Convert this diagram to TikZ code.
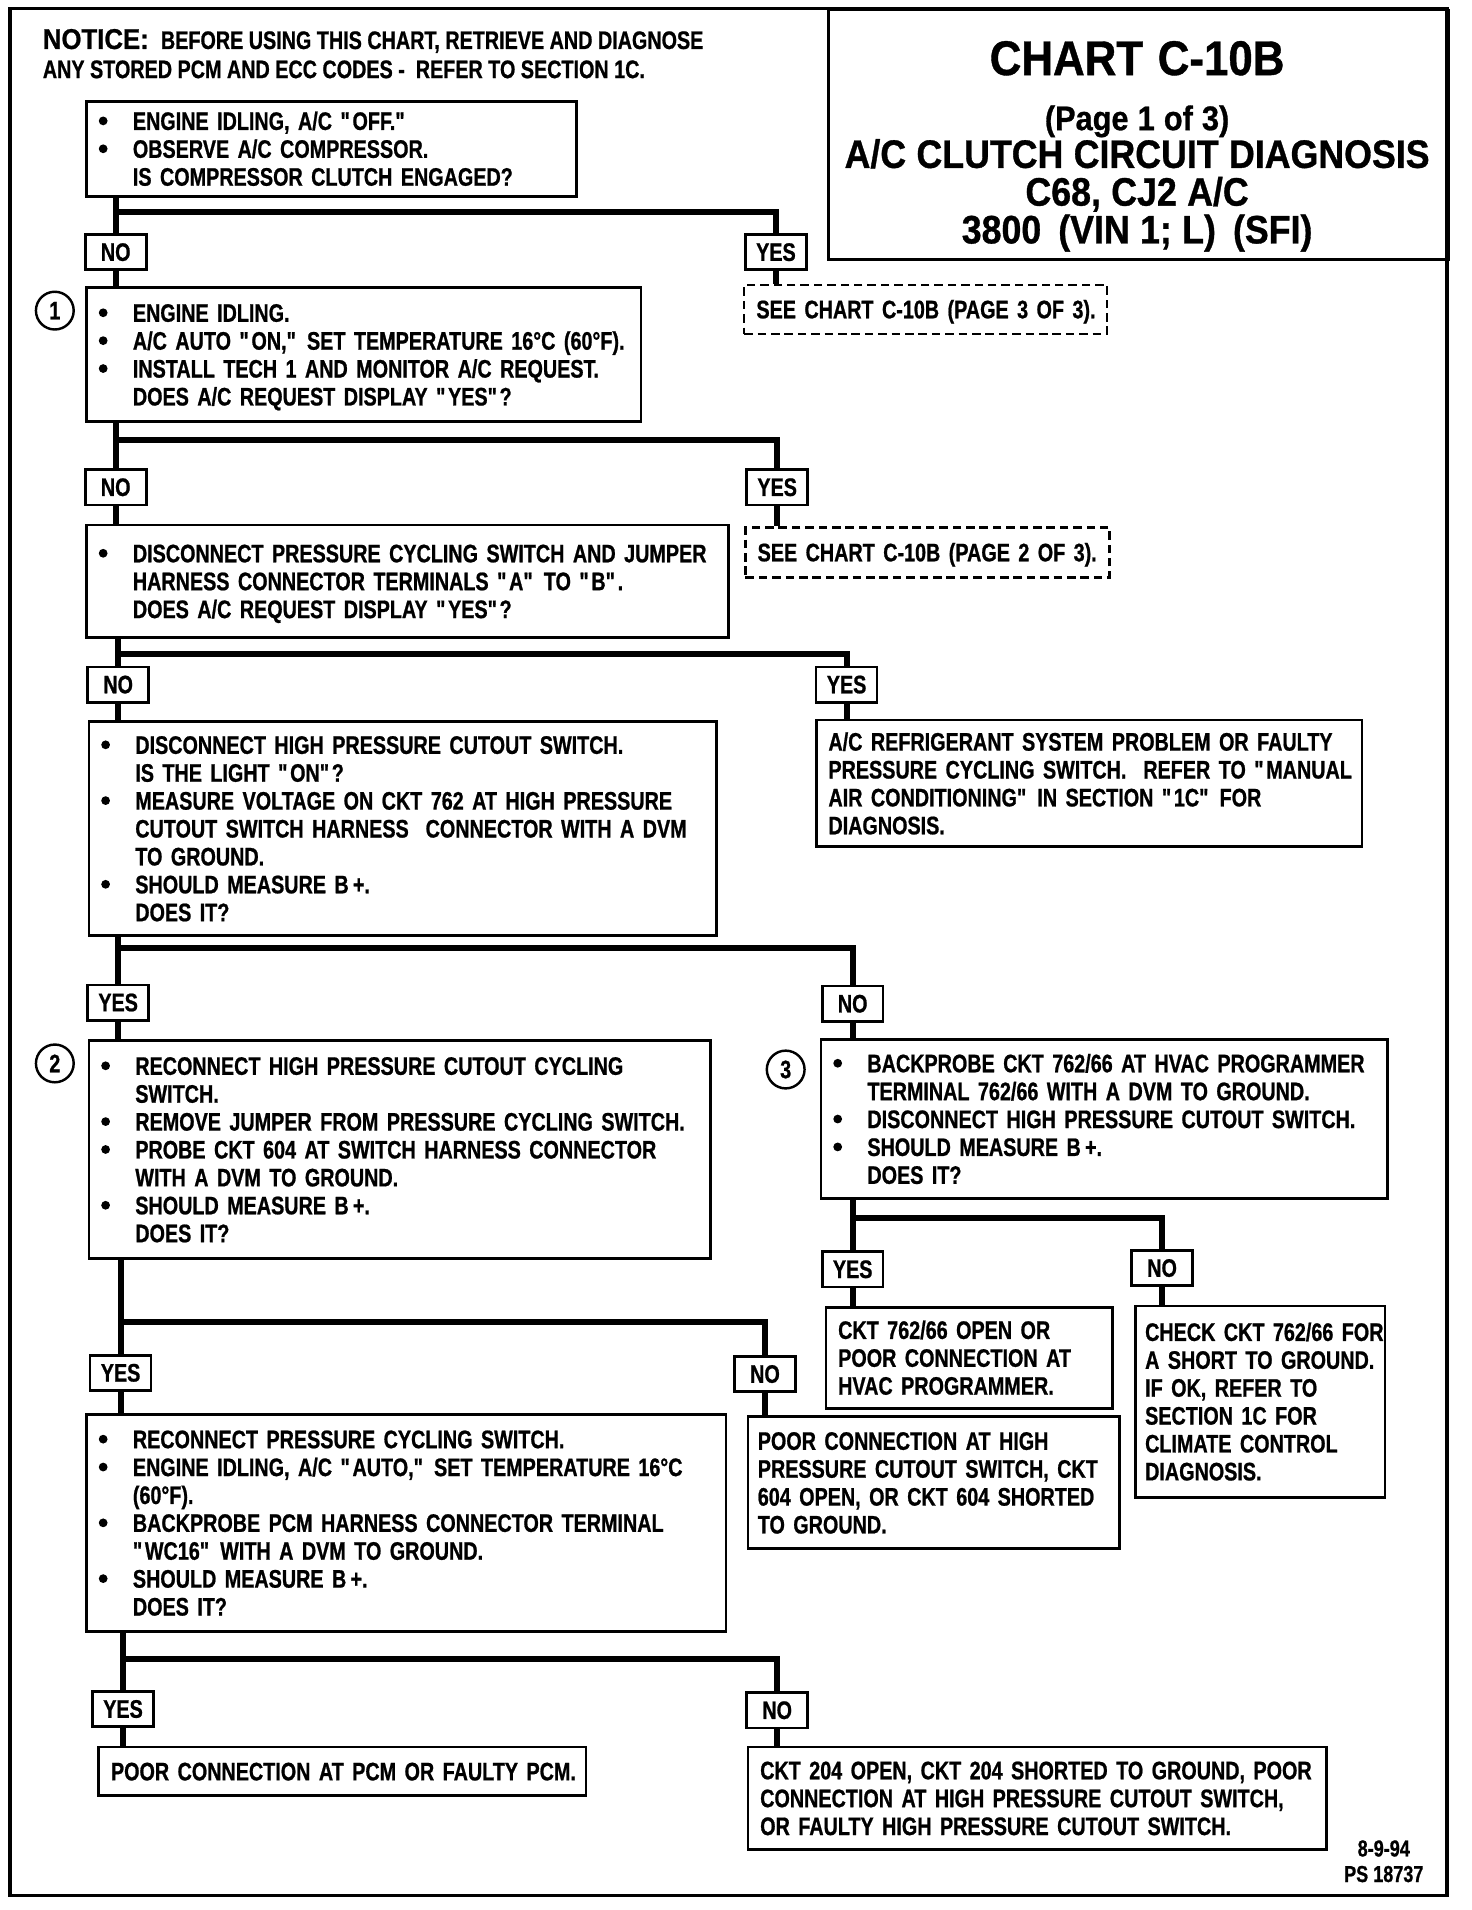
\documentclass[tikz,border=0pt]{standalone}
\usepackage{fontspec}
\setmainfont{Liberation Sans}[FakeStretch=0.78, BoldFeatures={FakeBold=0.8}]
\newfontfamily\titlefamily{Liberation Sans}[FakeStretch=0.9, BoldFeatures={FakeBold=0.8}]
\newcommand{\boxfont}{\fontsize{20.8}{22.9}\selectfont\bfseries}
\newcommand{\bul}{\makebox[28pt][l]{\tikz[baseline=0pt]\fill (2.7pt,7.4pt) circle (3.6pt);}}
\newcommand{\ind}{\hspace*{28pt}}
\newcommand{\qq}[1]{\textquotedbl#1\textquotedbl}
\tikzset{
  chartframe/.style={line width=3pt},
  chartbox/.style={draw, line width=2.2pt, anchor=north west, inner xsep=10pt, inner ysep=0pt, align=left, font=\boxfont,
    execute at begin node={\rightskip=-40pt plus 1fil\rule{0pt}{18.9pt}}, execute at end node={\rule[-4pt]{0pt}{4pt}}},
  seebox/.style={chartbox, dash pattern=on 7pt off 4pt, line width=2pt},
  titlebox/.style={draw, line width=2.2pt, anchor=north west, inner sep=0pt, minimum width=509pt, minimum height=205pt},
  titletext/.style={anchor=north, inner sep=0pt, text width=500pt, align=center, font=\titlefamily\bfseries},
  notice/.style={anchor=north west, inner sep=0pt, align=left, font=\boxfont},
  answer/.style={draw, line width=2.2pt, minimum width=50pt, minimum height=29pt, inner sep=0pt, font=\boxfont},
  stepnum/.style={draw, circle, line width=2pt, minimum size=31pt, inner sep=0pt, font=\boxfont},
  stamp/.style={align=center, inner sep=0pt, font=\fontsize{19}{21}\selectfont\bfseries},
  flow/.style={line width=5pt}
}
\begin{document}
\begin{tikzpicture}[x=1pt, y=1pt]
  \useasboundingbox (0,0) rectangle (1208,-1568);
  \draw[chartframe] (8,-7) rectangle (1188,-1556);

  % heading
  \node[titlebox] (title) at (679,-7) {};
  \node[titletext] (heading) at (933.5,-33.5) {%
    {\fontsize{40}{44}\selectfont\spaceskip=12pt CHART C-10B\par}\vspace{14.2pt}
    {\fontsize{28}{31}\selectfont\spaceskip=7.5pt (Page 1 of 3)\par}
    {\fontsize{32.6}{31}\selectfont\spaceskip=8.5pt A/C CLUTCH CIRCUIT DIAGNOSIS\\ C68, CJ2 A/C\\ 3800\hspace{14pt}(VIN 1; L)\hspace{14pt}(SFI)\par}};
  \node[notice] (notice) at (35,-23.6) {{\titlefamily\fontsize{23.5}{25}\selectfont NOTICE:}\hspace{10pt}BEFORE USING THIS CHART, RETRIEVE AND DIAGNOSE\\[1pt]
    ANY STORED PCM AND ECC CODES -\ \ REFER TO SECTION 1C.};

  % boxes
  \node[chartbox, text width=382pt, minimum height=78pt] (engoff) at (70,-82)
    {\bul ENGINE IDLING, A/C \qq{OFF.}\\ \bul OBSERVE A/C COMPRESSOR.\\ \ind IS COMPRESSOR CLUTCH ENGAGED?};
  \node[seebox, text width=278pt, minimum height=40pt] (see3) at (610,-233) {SEE CHART C-10B (PAGE 3 OF 3).};
  \node[chartbox, text width=435pt, minimum height=110pt] (request) at (70,-235)
    {\bul ENGINE IDLING.\\ \bul A/C AUTO \qq{ON,} SET TEMPERATURE 16°C (60°F).\\ \bul INSTALL TECH 1 AND MONITOR A/C REQUEST.\\ \ind DOES A/C REQUEST DISPLAY \qq{YES}?};
  \node[stepnum] (c1) at (45,-255) {1};
  \node[seebox, text width=279pt, minimum height=41pt] (see2) at (611,-432) {SEE CHART C-10B (PAGE 2 OF 3).};
  \node[chartbox, text width=507pt, minimum height=92pt] (jumper) at (70,-430)
    {\bul DISCONNECT PRESSURE CYCLING SWITCH AND JUMPER\\ \ind HARNESS CONNECTOR TERMINALS \qq{A} TO \qq{B}.\\ \ind DOES A/C REQUEST DISPLAY \qq{YES}?};
  \node[chartbox, text width=428pt, minimum height=104pt] (refrig) at (669,-590)
    {A/C REFRIGERANT SYSTEM PROBLEM OR FAULTY\\ PRESSURE CYCLING SWITCH.\ \ REFER TO \textquotedbl MANUAL\\ AIR CONDITIONING\textquotedbl\ IN SECTION \qq{1C} FOR\\ DIAGNOSIS.};
  \node[chartbox, text width=495pt, minimum height=176pt] (hpcut) at (72,-591)
    {\bul DISCONNECT HIGH PRESSURE CUTOUT SWITCH.\\ \ind IS THE LIGHT \qq{ON}?\\ \bul MEASURE VOLTAGE ON CKT 762 AT HIGH PRESSURE\\ \ind CUTOUT SWITCH HARNESS\ \ CONNECTOR WITH A DVM\\ \ind TO GROUND.\\ \bul SHOULD MEASURE B\,+.\\ \ind DOES IT?};
  \node[chartbox, text width=490pt, minimum height=179pt] (reconn) at (72,-853)
    {\bul RECONNECT HIGH PRESSURE CUTOUT CYCLING\\ \ind SWITCH.\\ \bul REMOVE JUMPER FROM PRESSURE CYCLING SWITCH.\\ \bul PROBE CKT 604 AT SWITCH HARNESS CONNECTOR\\ \ind WITH A DVM TO GROUND.\\ \bul SHOULD MEASURE B\,+.\\ \ind DOES IT?};
  \node[stepnum] (c2) at (45,-873) {2};
  \node[chartbox, text width=445pt, minimum height=131pt] (backhvac) at (673,-852)
    {\bul BACKPROBE CKT 762/66 AT HVAC PROGRAMMER\\ \ind TERMINAL 762/66 WITH A DVM TO GROUND.\\ \bul DISCONNECT HIGH PRESSURE CUTOUT SWITCH.\\ \bul SHOULD MEASURE B\,+.\\ \ind DOES IT?};
  \node[stepnum] (c3) at (645,-878) {3};
  \node[chartbox, text width=215pt, minimum height=83pt] (hvacopen) at (677,-1072)
    {CKT 762/66 OPEN OR\\ POOR CONNECTION AT\\ HVAC PROGRAMMER.};
  \node[chartbox, inner xsep=8pt, text width=189pt, minimum height=157pt] (short) at (931,-1071)
    {CHECK CKT 762/66 FOR\\ A SHORT TO GROUND.\\ IF OK, REFER TO\\ SECTION 1C FOR\\ CLIMATE CONTROL\\ DIAGNOSIS.};
  \node[chartbox, inner xsep=8pt, text width=289pt, minimum height=108pt] (poorhp) at (613,-1162)
    {POOR CONNECTION AT HIGH\\ PRESSURE CUTOUT SWITCH, CKT\\ 604 OPEN, OR CKT 604 SHORTED\\ TO GROUND.};
  \node[chartbox, text width=505pt, minimum height=178pt] (pcmterm) at (70,-1160)
    {\bul RECONNECT PRESSURE CYCLING SWITCH.\\ \bul ENGINE IDLING, A/C \qq{AUTO,} SET TEMPERATURE 16°C\\ \ind (60°F).\\ \bul BACKPROBE PCM HARNESS CONNECTOR TERMINAL\\ \ind \qq{WC16} WITH A DVM TO GROUND.\\ \bul SHOULD MEASURE B\,+.\\ \ind DOES IT?};
  \node[chartbox, text width=380pt, minimum height=40pt] (faultypcm) at (80,-1433)
    {POOR CONNECTION AT PCM OR FAULTY PCM.};
  \node[chartbox, inner xsep=10pt, text width=455pt, minimum height=84pt] (ckt204) at (613,-1433)
    {CKT 204 OPEN, CKT 204 SHORTED TO GROUND, POOR\\ CONNECTION AT HIGH PRESSURE CUTOUT SWITCH,\\ OR FAULTY HIGH PRESSURE CUTOUT SWITCH.};

  % answers
  \node[answer] (nA) at (95,-207) {NO};
  \node[answer] (yA) at (637,-207) {YES};
  \node[answer] (n1) at (95,-400) {NO};
  \node[answer] (y1) at (638,-400) {YES};
  \node[answer] (nB) at (97,-562) {NO};
  \node[answer] (yB) at (695,-562) {YES};
  \node[answer] (yD) at (97,-823) {YES};
  \node[answer] (nD) at (700,-824) {NO};
  \node[answer] (yF) at (700,-1042) {YES};
  \node[answer] (nF) at (954,-1041) {NO};
  \node[answer] (yE) at (99,-1127) {YES};
  \node[answer] (nE) at (628,-1128) {NO};
  \node[answer] (yJ) at (101,-1403) {YES};
  \node[answer] (nJ) at (638,-1404) {NO};

  % branch points
  \coordinate (jA) at (95,-174);
  \coordinate (j1) at (95,-361);
  \coordinate (jB) at (97,-537);
  \coordinate (jD) at (97,-778);
  \coordinate (jF) at (700,-1000);
  \coordinate (jE) at (99,-1085);
  \coordinate (jJ) at (101,-1362);

  % connectors
  \draw[flow] (engoff.south -| nA) -- (nA);
  \draw[flow] (nA) -- (request.north -| nA);
  \draw[flow] (jA) -| (yA);
  \draw[flow] (yA) -- (see3.north -| yA);

  \draw[flow] (request.south -| n1) -- (n1);
  \draw[flow] (n1) -- (jumper.north -| n1);
  \draw[flow] (j1) -| (y1);
  \draw[flow] (y1) -- (see2.north -| y1);

  \draw[flow] (jumper.south -| nB) -- (nB);
  \draw[flow] (nB) -- (hpcut.north -| nB);
  \draw[flow] (jB) -| (yB);
  \draw[flow] (yB) -- (refrig.north -| yB);

  \draw[flow] (hpcut.south -| yD) -- (yD);
  \draw[flow] (yD) -- (reconn.north -| yD);
  \draw[flow] (jD) -| (nD);
  \draw[flow] (nD) -- (backhvac.north -| nD);

  \draw[flow] (backhvac.south -| yF) -- (yF);
  \draw[flow] (yF) -- (hvacopen.north -| yF);
  \draw[flow] (jF) -| (nF);
  \draw[flow] (nF) -- (short.north -| nF);

  \draw[flow] (reconn.south -| yE) -- (yE);
  \draw[flow] (yE) -- (pcmterm.north -| yE);
  \draw[flow] (jE) -| (nE);
  \draw[flow] (nE) -- (poorhp.north -| nE);

  \draw[flow] (pcmterm.south -| yJ) -- (yJ);
  \draw[flow] (yJ) -- (faultypcm.north -| yJ);
  \draw[flow] (jJ) -| (nJ);
  \draw[flow] (nJ) -- (ckt204.north -| nJ);

  \node[stamp] (date) at (1136,-1528) {8-9-94\\PS 18737};
\end{tikzpicture}
\end{document}
